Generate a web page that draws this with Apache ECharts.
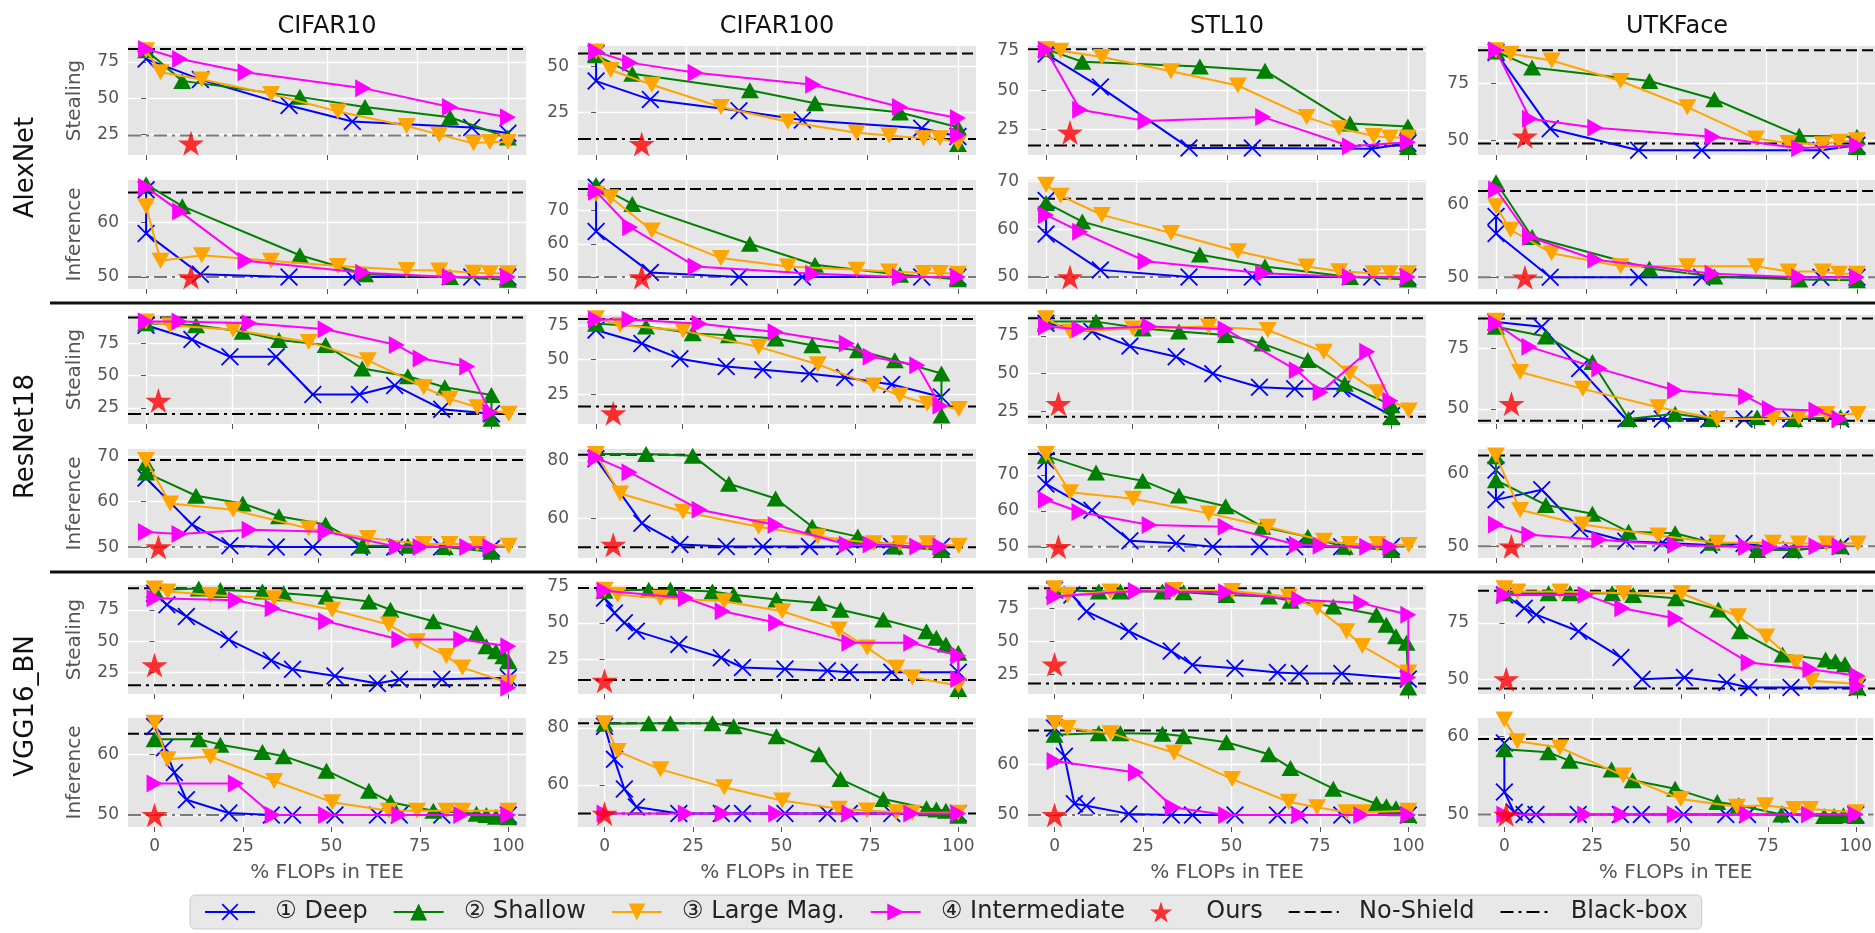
<!DOCTYPE html>
<html><head><meta charset="utf-8">
<script src="https://cdn.jsdelivr.net/npm/echarts@6/dist/echarts.min.js"></script>
<style>html,body{margin:0;padding:0;background:#fff}#c{width:1875px;height:933px}</style>
</head><body><div id="c"></div>
<script>
// ---------------- DATA ----------------
const datasets = ['CIFAR10', 'CIFAR100', 'STL10', 'UTKFace'];
const models = ['AlexNet', 'ResNet18', 'VGG16_BN'];
const tasks = ['Stealing', 'Inference'];
const methods = ['① Deep', '② Shallow', '③ Large Mag.', '④ Intermediate'];
const xTicks = [0, 25, 50, 75, 100];
const xRangeByModel = [[-5, 105], [-5.2, 110], [-7.5, 105]];

// AlexNet – Stealing
const A_C10_S_deep = [[0,77],[15,63],[39.5,45],[57,34],[90,30],[100,26]];
const A_C10_S_shal = [[0,83],[10,62],[42.5,51],[60.5,44],[84,37],[100,23]];
const A_C10_S_larg = [[0,83],[4,68],[15.4,63],[34.5,53],[53,41],[72,31],[81,25],[90.5,19],[95,20],[100,20]];
const A_C10_S_inte = [[0,84],[9.4,77],[27.5,68],[60,57],[84,44],[100,37]];
const A_C100_S_deep = [[0,57],[0,42],[15,32],[39.5,26],[57,21],[90,16.5],[100,12]];
const A_C100_S_shal = [[0,56],[10,46],[42.5,37],[60.5,30],[84,25],[100,17],[100,8]];
const A_C100_S_larg = [[0,58],[4,48],[15.4,40],[34.5,28],[53,20],[72,14],[81,12.5],[90.5,11],[95,11],[100,8.5]];
const A_C100_S_inte = [[0,58],[9.4,52],[27.5,46.5],[60,40],[84,28],[100,22],[100,12.5]];
const A_STL_S_deep = [[0,73],[15,52],[39.5,13.5],[57,13.5],[90,13],[100,16.5]];
const A_STL_S_shal = [[0,76],[10,68],[42.5,65],[60.5,62.4],[84,29],[100,27],[100,14]];
const A_STL_S_larg = [[0,76],[4,75],[15.4,71],[34.5,62],[53,53],[72,33],[81,26],[90.5,21],[95,20],[100,20]];
const A_STL_S_inte = [[0,75.4],[9.4,37.6],[27.5,30.5],[60,33],[84,14.5],[100,17]];
const A_UTK_S_deep = [[0,88.5],[15,55],[39.5,45.6],[57,45.6],[90,45.6],[100,47.8]];
const A_UTK_S_shal = [[0,89],[10,82],[42.5,76],[60.5,68],[84,52],[100,51.5],[100,47]];
const A_UTK_S_larg = [[0,89.5],[4,88],[15.4,85],[34.5,76],[53,64.5],[72,50.7],[81,48.8],[90.5,48.2],[95,49.3],[100,50]];
const A_UTK_S_inte = [[0,89.5],[9.4,59.4],[27.5,55.5],[60,51.5],[84,46.5],[100,47.8]];
// AlexNet – Inference
const A_C10_I_deep = [[0,66],[0,58],[15,50.5],[39.5,50],[57,50],[90,50],[100,50]];
const A_C10_I_shal = [[0,67],[10,63],[42.5,54],[60.5,50.5],[84,50],[100,49.5]];
const A_C10_I_larg = [[0,63],[4,53],[15.4,54],[34.5,53],[53,52],[72,51.3],[81,51.2],[90.5,50.8],[95,50.7],[100,50.7]];
const A_C10_I_inte = [[0,66.5],[9.4,62],[27.5,53],[60,50.8],[84,50],[100,50]];
const A_C100_I_deep = [[0,77],[0,63.7],[15,51.4],[39.5,50],[57,50],[90,50],[100,50]];
const A_C100_I_shal = [[0,77.7],[10,72],[42.5,60],[60.5,53.7],[84,50.7],[100,49.3]];
const A_C100_I_larg = [[0,75],[4,74],[15.4,64],[34.5,55.7],[53,53.2],[72,52.2],[81,51.7],[90.5,51.2],[95,51.2],[100,51]];
const A_C100_I_inte = [[0,75.7],[9.4,65],[27.5,53.2],[60,51],[84,50],[100,50]];
const A_STL_I_deep = [[0,66],[0,59],[15,51.5],[39.5,50],[57,50],[90,50],[100,50]];
const A_STL_I_shal = [[0,65.5],[10,61.6],[42.5,54.7],[60.5,52.2],[84,50],[100,49.5]];
const A_STL_I_larg = [[0,69.3],[4,67],[15.4,63],[34.5,59.2],[53,55.4],[72,52.2],[81,51.2],[90.5,50.8],[95,50.8],[100,50.8]];
const A_STL_I_inte = [[0,63],[9.4,59.5],[27.5,53.3],[60,50.8],[84,50],[100,50]];
const A_UTK_I_deep = [[0,58.3],[0,56],[15,50],[39.5,50],[57,50],[90,50],[100,50]];
const A_UTK_I_shal = [[0,63],[10,55.5],[42.5,51.2],[60.5,50.1],[84,49.7],[100,49.6]];
const A_UTK_I_larg = [[0,59.7],[4,56.5],[15.4,53.3],[34.5,51.5],[53,51.5],[72,51.5],[81,50.8],[90.5,50.8],[95,50.5],[100,50.5]];
const A_UTK_I_inte = [[0,62],[9.4,55.5],[27.5,52.4],[60,50.5],[84,50],[100,50]];

// ResNet18 – Stealing
const R_C10_S_deep = [[0,89],[13.3,78],[24.3,64.6],[37.7,64.6],[48.3,35.4],[61.8,35.4],[72,42.4],[85.6,24],[100,20.5]];
const R_C10_S_shal = [[0,90.6],[14.5,89],[28,84],[38.5,77.6],[52,73.7],[62.6,55.5],[75.8,49.5],[86.5,41],[100,35],[100,16.5]];
const R_C10_S_larg = [[0,92],[7,89],[25.2,85.5],[47.1,76],[64.2,62],[80.4,41],[87.9,32],[95.9,25.5],[105,20.5]];
const R_C10_S_inte = [[0,92],[9.7,92],[30,90.6],[52,86],[72.6,73.7],[79.5,63.3],[93,57],[99.7,21.6]];
const R_C100_S_deep = [[0,71.4],[13.3,61.7],[24.3,50.7],[37.7,45],[48.3,42.7],[61.8,39.8],[72,37],[85.6,32],[100,23]];
const R_C100_S_shal = [[0,76],[14.5,74],[28,69],[38.5,67.7],[52,65.3],[62.6,60.4],[75.8,56.8],[86.5,49.5],[100,40],[100,9.5]];
const R_C100_S_larg = [[0,80],[7,75],[25.2,71],[47.1,59.2],[64.2,46.6],[80.4,31.3],[87.9,24],[95.9,18],[105,14.3]];
const R_C100_S_inte = [[0,79],[9.7,79],[30,76],[52,70],[72.6,61.7],[79.5,52],[93,46],[99.7,16.7]];
const R_STL_S_deep = [[0,83.5],[13.3,78],[24.3,68.3],[37.7,61.2],[48.3,50],[61.8,41],[72,40],[85.6,40],[100,22]];
const R_STL_S_shal = [[0,84.6],[14.5,84.6],[28,80],[38.5,78],[52,75.7],[62.6,70],[75.8,59],[86.5,43.3],[100,29],[100,21]];
const R_STL_S_larg = [[0,86.8],[7,78],[25.2,80],[47.1,81.3],[64.2,79],[80.4,64.5],[87.9,50],[95.9,37.7],[105,25.4]];
const R_STL_S_inte = [[0,81.3],[9.7,79.5],[30,81.3],[52,79.5],[72.6,52.2],[79.5,37.7],[93,64.5],[99.7,32]];
const R_UTK_S_deep = [[0,86],[13.3,84],[24.3,66.7],[37.7,45.8],[48.3,45.8],[61.8,45.8],[72,45.8],[85.6,45.8],[100,45.8]];
const R_UTK_S_shal = [[0,84],[14.5,80],[28,69.4],[38.5,45.8],[52,48],[62.6,45.8],[75.8,46.5],[86.5,45.8],[100,46.5]];
const R_UTK_S_larg = [[0,86.5],[7,65.3],[25.2,58.3],[47.1,50.7],[64.2,45.8],[80.4,45.8],[87.9,46.5],[95.9,47.9],[105,47.9]];
const R_UTK_S_inte = [[0,85.4],[9.7,75.7],[30,66.7],[52,57.6],[72.6,55.1],[79.5,50],[93,49.3],[99.7,45.8]];
// ResNet18 – Inference
const R_C10_I_deep = [[0,65.2],[13.3,55],[24.3,50.3],[37.7,50],[48.3,50],[61.8,50],[72,50],[85.6,50],[100,49.7]];
const R_C10_I_shal = [[0,68.5],[0,66.4],[14.5,61.3],[28,59.6],[38.5,56.8],[52,55],[62.6,50.3],[75.8,50.3],[86.5,50],[100,49]];
const R_C10_I_larg = [[0,69.2],[7,59.6],[25.2,58.2],[47.1,54.1],[64.2,52],[80.4,50.7],[87.9,50.7],[95.9,50.7],[105,50.3]];
const R_C10_I_inte = [[0,53.3],[9.7,52.9],[30,53.8],[52,53.4],[72.6,50.1],[79.5,50],[93,50],[99.7,50]];
const R_C100_I_deep = [[0,80.6],[13.3,58.3],[24.3,51],[37.7,50.3],[48.3,50.3],[61.8,50.3],[72,50.3],[85.6,50.3],[100,50.3]];
const R_C100_I_shal = [[0,82.3],[14.5,82.3],[28,81.7],[38.5,72],[52,66.9],[62.6,57.1],[75.8,53.7],[86.5,50.3],[100,49.1]];
const R_C100_I_larg = [[0,82.3],[7,68.6],[25.2,62.3],[47.1,57.1],[64.2,53.7],[80.4,51.4],[87.9,51.4],[95.9,51.4],[105,50.5]];
const R_C100_I_inte = [[0,81],[9.7,76],[30,63],[52,57.7],[72.6,51],[79.5,51],[93,50.3],[99.7,50.3]];
const R_STL_I_deep = [[0,74],[0,67.5],[13.3,60.2],[24.3,51.7],[37.7,51],[48.3,50],[61.8,50],[72,50],[85.6,50],[100,50]];
const R_STL_I_shal = [[0,75.3],[14.5,70.7],[28,68.4],[38.5,64.3],[52,61.3],[62.6,55.6],[75.8,52.8],[86.5,50],[100,49.1]];
const R_STL_I_larg = [[0,75.8],[7,65.2],[25.2,63.4],[47.1,59.3],[64.2,55.6],[80.4,51.7],[87.9,50.8],[95.9,50.8],[105,50.5]];
const R_STL_I_inte = [[0,63.1],[9.7,59.7],[30,56.1],[52,55.6],[72.6,50.6],[79.5,50.3],[93,50],[99.7,50]];
const R_UTK_I_deep = [[0,60.5],[0,56.4],[13.3,57.8],[24.3,52.4],[37.7,50.7],[48.3,50.5],[61.8,50.2],[72,50.4],[85.6,49.5],[100,50]];
const R_UTK_I_shal = [[0,62.4],[0,59.1],[14.5,55.7],[28,54.5],[38.5,52],[52,51.8],[62.6,50.5],[75.8,49.5],[86.5,49.5],[100,50]];
const R_UTK_I_larg = [[0,62.5],[7,55],[25.2,53],[47.1,51.5],[64.2,50.5],[80.4,50.5],[87.9,50.4],[95.9,50.4],[105,50.4]];
const R_UTK_I_inte = [[0,53],[9.7,51.6],[30,50.9],[52,50.2],[72.6,49.9],[79.5,49.8],[93,50],[99.7,50]];

// VGG16_BN – Stealing
const V_C10_S_deep = [[0,88.2],[3.5,79],[9,69.7],[21,51.3],[33,34.7],[39,27.6],[51,22.4],[63,16.3],[69.2,19.7],[81.2,19.7],[100,21]];
const V_C10_S_shal = [[0,90.8],[12.5,92],[18.6,90.8],[30.5,89.5],[36.5,88.2],[48.6,85.5],[60.6,81.6],[66.7,75],[78.8,65.8],[91,56.6],[93.8,46],[96.5,42],[98.6,38],[100,34]];
const V_C10_S_larg = [[0,92],[3.7,89.5],[15.8,86.8],[33.8,84.2],[50.2,75],[66.2,63.2],[74.2,50],[82.5,38.2],[87,29],[100,17]];
const V_C10_S_inte = [[0,84.2],[23,82.5],[33.4,76.3],[48.5,65.8],[69.2,51.3],[86.7,51.3],[100,46],[100,13]];
const V_C100_S_deep = [[0,67],[2.8,56.8],[5.6,50],[9,44.3],[21,35.2],[33,26],[39,19.3],[51,18.2],[63,17],[69.2,16],[81.2,16],[100,16]];
const V_C100_S_shal = [[0,72],[12.5,72.7],[18.6,72.7],[30.5,71.6],[36.5,69.3],[48.6,66],[60.6,63.6],[66.7,59],[78.8,52.3],[91,44.3],[93.8,39.8],[96.5,35.2],[100,29.5],[100,4.5]];
const V_C100_S_larg = [[0,72.7],[3.7,69.3],[15.8,67],[33.8,64.8],[50.2,58],[66.2,45.5],[74.2,33],[82.5,19.3],[87,12.5],[100,7]];
const V_C100_S_inte = [[0,72],[23,67],[33.4,58],[48.5,50],[69.2,36.4],[86.7,36.4],[100,27.3],[100,11.4]];
const V_STL_S_deep = [[0,88.8],[4.9,85],[9,72.5],[21,57.5],[33,42.5],[39,32],[51,29.5],[63,26.3],[69.2,25.5],[81.2,25.5],[100,21.3]];
const V_STL_S_shal = [[0,88.8],[12.5,87.5],[18.6,87.5],[30.5,87.5],[36.5,87],[48.6,85],[60.6,83.8],[66.7,80.5],[78.8,76.3],[91,70],[93.8,62.5],[96.5,53.8],[99.5,48.8],[100,15]];
const V_STL_S_larg = [[0,90],[3.7,85],[15.8,87.5],[33.8,88.8],[50.2,88],[66.2,83.8],[74.2,75],[82.5,57.5],[87,46.3],[100,26.3]];
const V_STL_S_inte = [[0,83.8],[23,88],[33.4,87.5],[48.5,87],[69.2,81.3],[86.7,78.8],[100,70],[100,22.5]];
const V_UTK_S_deep = [[0,87.5],[5.6,81.6],[9,78.7],[21,71.3],[33,59.6],[39,50],[51,50.7],[63,48.5],[69.2,46.3],[81.2,46.3],[100,46.3]];
const V_UTK_S_shal = [[0,88.2],[12.5,88.2],[18.6,88.2],[30.5,88.2],[36.5,87.5],[48.6,86],[60.6,81],[66.7,71.3],[78.8,61],[91,58.8],[93.8,58],[96.5,56.6],[100,46.3]];
const V_UTK_S_larg = [[0,90.4],[3.7,89],[15.8,89],[33.8,88.2],[50.2,88.2],[66.2,78],[74.2,69],[82.5,57.4],[87,49.3],[100,47.8]];
const V_UTK_S_inte = [[0,87.5],[23,87.5],[33.4,81.6],[48.5,77],[69.2,57.4],[86.7,54.4],[100,51.5],[100,47]];
// VGG16_BN – Inference
const V_C10_I_deep = [[0,64.6],[2.8,61.1],[5.6,57],[9,52.5],[21,50.3],[33,50],[39,50],[51,50],[63,50],[69.2,50],[81.2,50],[100,50]];
const V_C10_I_shal = [[0,62.5],[12.5,62.5],[18.6,61.6],[30.5,60.4],[36.5,59.7],[48.6,57.3],[60.6,54],[66.7,52.1],[78.8,50.7],[91,50.2],[93.8,50],[96.5,49.7],[100,49.6]];
const V_C10_I_larg = [[0,65.2],[3.7,59.2],[15.8,59.6],[33.8,55.6],[50.2,52.1],[66.2,50.7],[74.2,50.7],[82.5,50.7],[87,50.7],[100,50.7]];
const V_C10_I_inte = [[0,55.2],[23,55.2],[33.4,50],[48.5,50],[69.2,50],[86.7,50],[100,50]];
const V_C100_I_deep = [[0,80.6],[2.8,69],[5.6,58.6],[9,52.3],[21,50],[33,50],[39,50],[51,50],[63,50],[69.2,50],[81.2,50],[100,50]];
const V_C100_I_shal = [[0,81.5],[12.5,81.7],[18.6,81.7],[30.5,81.7],[36.5,80.6],[48.6,77.1],[60.6,70.8],[66.7,62.1],[78.8,55.1],[91,51.9],[93.8,51.4],[96.5,51],[100,49.2]];
const V_C100_I_larg = [[0,81.7],[3.7,71.9],[15.8,65.5],[33.8,59.2],[50.2,54.6],[66.2,51.7],[74.2,51.1],[82.5,50.5],[87,50.3],[100,50.3]];
const V_C100_I_inte = [[0,50],[23,50],[33.4,50],[48.5,50],[69.2,50],[86.7,50],[100,50]];
const V_STL_I_deep = [[0,67.2],[2.8,61.6],[5.6,52.2],[9,51.8],[21,50.2],[33,50],[39,50],[51,50],[63,50],[69.2,50],[81.2,50],[100,50]];
const V_STL_I_shal = [[0,65.9],[12.5,66.2],[18.6,66.2],[30.5,66.1],[36.5,65.6],[48.6,64.4],[60.6,62],[66.7,59.3],[78.8,55.2],[91,52.2],[93.8,51.7],[96.5,51.3],[100,50]];
const V_STL_I_larg = [[0,68.2],[3.7,67.2],[15.8,66.2],[33.8,62.3],[50.2,57.1],[66.2,52.6],[74.2,51.5],[82.5,50.5],[87,50.5],[100,50.8]];
const V_STL_I_inte = [[0,60.7],[23,58.4],[33.4,51.5],[48.5,50],[69.2,50],[86.7,50],[100,50]];
const V_UTK_I_deep = [[0,59.2],[0,52.9],[2.8,50.3],[5.6,50],[9,50],[21,50],[33,50],[39,50],[51,50],[63,50],[69.2,50],[81.2,50],[100,50]];
const V_UTK_I_shal = [[0,58.4],[12.5,58],[18.6,56.9],[30.5,55.8],[36.5,54.4],[48.6,53.3],[60.6,51.6],[66.7,51.2],[78.8,50],[91,49.8],[93.8,49.8],[96.5,49.9],[100,49.8]];
const V_UTK_I_larg = [[0,62.2],[3.7,59.4],[15.8,58.6],[33.8,55],[50.2,52],[66.2,51],[74.2,51.2],[82.5,50.7],[87,50.7],[100,50.3]];
const V_UTK_I_inte = [[0,50],[23,50],[33.4,50],[48.5,50],[69.2,50],[86.7,50],[100,50]];

// Reference lines and "Ours" (rows: A-S, A-I, R-S, R-I, V-S, V-I; cols: datasets)
const noShield = [[84,57,76,89.5],[65.5,76.5,66.4,61.8],[95,79.4,86.8,87.5],[69.2,82,75.8,62.5],[92.1,73.9,90,89.3],[63.4,81.7,66.7,59.7]];
const blackBox = [[24.5,10.7,15,48.5],[50,50,50,50],[20.3,16,21.4,45.1],[50,50,50,50],[15,10.7,18,45.9],[50,50,50,50]];
const ours = [
  [[12.4,19],[12.6,8],[6.6,23.3],[8,51.7]],
  [[12.4,50],[12.6,50],[6.6,50],[8,50]],
  [[3.6,30.7],[5,11.2],[3.6,29.9],[4.5,52.1]],
  [[3.6,50],[5,50.9],[3.6,50],[4.5,50]],
  [[0,31],[0,10.2],[0,32.5],[0.5,50]],
  [[0,50],[0,50],[0,50],[0.5,50]]
];
// y-axis limits and tick labels per panel
const yLim = [
  [[11,86],[2,61],[9,78],[43.5,91.4]],
  [[47.8,67.8],[46.4,79.2],[47.5,70.3],[48.4,63.3]],
  [[12.5,97],[3.4,82.3],[16.5,89],[43.75,88.9]],
  [[47.6,71.6],[46.3,84],[46.9,77.2],[48.4,63.4]],
  [[8,94.7],[1.1,76],[10,92.5],[43.4,91.9]],
  [[48,66],[45.3,83.5],[47.6,69.2],[48.4,62.4]]
];
const yTicks = [
  [[25,50,75],[25,50],[25,50,75],[50,75]],
  [[50,60],[50,60,70],[50,60,70],[50,60]],
  [[25,50,75],[25,50,75],[25,50,75],[50,75]],
  [[50,60,70],[60,80],[50,60,70],[50,60]],
  [[25,50,75],[25,50,75],[25,50,75],[50,75]],
  [[50,60],[60,80],[50,60],[50,60]]
];

const panelData = [
  [[A_C10_S_deep,A_C10_S_shal,A_C10_S_larg,A_C10_S_inte],[A_C100_S_deep,A_C100_S_shal,A_C100_S_larg,A_C100_S_inte],[A_STL_S_deep,A_STL_S_shal,A_STL_S_larg,A_STL_S_inte],[A_UTK_S_deep,A_UTK_S_shal,A_UTK_S_larg,A_UTK_S_inte]],
  [[A_C10_I_deep,A_C10_I_shal,A_C10_I_larg,A_C10_I_inte],[A_C100_I_deep,A_C100_I_shal,A_C100_I_larg,A_C100_I_inte],[A_STL_I_deep,A_STL_I_shal,A_STL_I_larg,A_STL_I_inte],[A_UTK_I_deep,A_UTK_I_shal,A_UTK_I_larg,A_UTK_I_inte]],
  [[R_C10_S_deep,R_C10_S_shal,R_C10_S_larg,R_C10_S_inte],[R_C100_S_deep,R_C100_S_shal,R_C100_S_larg,R_C100_S_inte],[R_STL_S_deep,R_STL_S_shal,R_STL_S_larg,R_STL_S_inte],[R_UTK_S_deep,R_UTK_S_shal,R_UTK_S_larg,R_UTK_S_inte]],
  [[R_C10_I_deep,R_C10_I_shal,R_C10_I_larg,R_C10_I_inte],[R_C100_I_deep,R_C100_I_shal,R_C100_I_larg,R_C100_I_inte],[R_STL_I_deep,R_STL_I_shal,R_STL_I_larg,R_STL_I_inte],[R_UTK_I_deep,R_UTK_I_shal,R_UTK_I_larg,R_UTK_I_inte]],
  [[V_C10_S_deep,V_C10_S_shal,V_C10_S_larg,V_C10_S_inte],[V_C100_S_deep,V_C100_S_shal,V_C100_S_larg,V_C100_S_inte],[V_STL_S_deep,V_STL_S_shal,V_STL_S_larg,V_STL_S_inte],[V_UTK_S_deep,V_UTK_S_shal,V_UTK_S_larg,V_UTK_S_inte]],
  [[V_C10_I_deep,V_C10_I_shal,V_C10_I_larg,V_C10_I_inte],[V_C100_I_deep,V_C100_I_shal,V_C100_I_larg,V_C100_I_inte],[V_STL_I_deep,V_STL_I_shal,V_STL_I_larg,V_STL_I_inte],[V_UTK_I_deep,V_UTK_I_shal,V_UTK_I_larg,V_UTK_I_inte]]
];

// ---------------- LAYOUT / STYLE ----------------
const FONT = "'DejaVu Sans', 'Liberation Sans', sans-serif";
const colLeft = [128, 578, 1028, 1478];
const rowTop = [46, 180, 315, 449, 585, 718];
const PW = 398, PH = 109;
const colors = ['#0000ff', '#008000', '#ffa500', '#ff00ff'];
const X_PATH = 'path://M0,0.7 L0.7,0 L5,4.3 L9.3,0 L10,0.7 L5.7,5 L10,9.3 L9.3,10 L5,5.7 L0.7,10 L0,9.3 L4.3,5 Z';
const symbols = [X_PATH, 'triangle', 'path://M0,0 L10,0 L5,8.66 Z', 'path://M0,0 L8.66,5 L0,10 Z'];
const symSizes = [[18,18], [18,16], [18,16], [16,18]];
const STAR = 'path://M50,0 L61,35 L98,35 L68,57 L79,91 L50,70 L21,91 L32,57 L2,35 L39,35 Z';

const grids = [], xAxes = [], yAxes = [], series = [];
for (let r = 0; r < 6; r++) {
  for (let c = 0; c < 4; c++) {
    const idx = r * 4 + c;
    const xr = xRangeByModel[Math.floor(r / 2)];
    grids.push({left: colLeft[c], top: rowTop[r], width: PW, height: PH,
      show: true, backgroundColor: '#E5E5E5', borderWidth: 0});
    xAxes.push({type: 'value', gridIndex: idx, min: xr[0], max: xr[1],
      axisLine: {show: false},
      axisTick: {show: true, length: 5, lineStyle: {color: '#555', width: 1}, customValues: xTicks},
      axisLabel: {show: r === 5, customValues: xTicks, fontSize: 17, color: '#555', margin: 11, fontFamily: FONT},
      splitLine: {show: true, lineStyle: {color: '#fff', width: 1.3}},
      name: r === 5 ? '% FLOPs in TEE' : '', nameLocation: 'middle', nameGap: 36,
      nameTextStyle: {fontSize: 20, color: '#555', fontFamily: FONT}});
    const yl = yLim[r][c];
    yAxes.push({type: 'value', gridIndex: idx, min: yl[0], max: yl[1],
      axisLine: {show: false},
      axisTick: {show: true, length: 5, lineStyle: {color: '#555', width: 1}, customValues: yTicks[r][c]},
      axisLabel: {show: true, customValues: yTicks[r][c], fontSize: 17, color: '#555', margin: 9, fontFamily: FONT},
      splitLine: {show: true, lineStyle: {color: '#fff', width: 1.3}}});
    const ns = noShield[r][c], bb = blackBox[r][c];
    const bbOnGrid = yTicks[r][c].some(t => Math.abs(t - bb) < 1);
    series.push({name: 'No-Shield', type: 'line', xAxisIndex: idx, yAxisIndex: idx,
      data: [[xr[0], ns], [xr[1], ns]], symbol: 'none', silent: true, z: 2,
      lineStyle: {color: '#000', width: 2, type: [11, 5]}, itemStyle: {color: '#000'}});
    series.push({name: 'Black-box', type: 'line', xAxisIndex: idx, yAxisIndex: idx,
      data: [[xr[0], bb], [xr[1], bb]], symbol: 'none', silent: true, z: 2,
      lineStyle: {color: bbOnGrid ? '#7a7a7a' : '#000', width: 2, type: [13, 5, 3, 5]}, itemStyle: {color: '#000'}});
    for (let k = 0; k < 4; k++) {
      series.push({name: methods[k], type: 'line', xAxisIndex: idx, yAxisIndex: idx,
        data: panelData[r][c][k], symbol: symbols[k], symbolSize: symSizes[k], showSymbol: true,
        clip: false, silent: true, z: 3 + k,
        lineStyle: {color: colors[k], width: 2}, itemStyle: {color: colors[k]}});
    }
    series.push({name: 'Ours', type: 'scatter', xAxisIndex: idx, yAxisIndex: idx,
      data: [ours[r][c]], symbol: STAR, symbolSize: [26, 25], silent: true, z: 10,
      itemStyle: {color: '#ff0000'}});
  }
}

const graphics = [];
datasets.forEach((d, c) => graphics.push({type: 'text', x: colLeft[c] + PW / 2, y: 27,
  style: {text: d, fontSize: 24, fontFamily: FONT, fill: '#111', align: 'center', verticalAlign: 'middle'}}));
models.forEach((m, i) => {
  const yc = (rowTop[2 * i] + rowTop[2 * i + 1] + PH) / 2;
  graphics.push({type: 'text', x: 26, y: yc, rotation: Math.PI / 2,
    style: {text: m, fontSize: 26, fontFamily: FONT, fill: '#111', align: 'center', verticalAlign: 'middle'}});
  tasks.forEach((t, j) => {
    graphics.push({type: 'text', x: 75, y: rowTop[2 * i + j] + PH / 2, rotation: Math.PI / 2,
      style: {text: t, fontSize: 20, fontFamily: FONT, fill: '#555', align: 'center', verticalAlign: 'middle'}});
  });
});
[303, 572].forEach(y => graphics.push({type: 'line', shape: {x1: 50, y1: y, x2: 1875, y2: y},
  style: {stroke: '#111', lineWidth: 3}}));

const hiddenDot = {opacity: 0};
const chart = echarts.init(document.getElementById('c'), null, {renderer: 'canvas'});
chart.setOption({
  animation: false,
  backgroundColor: '#fff',
  grid: grids, xAxis: xAxes, yAxis: yAxes, series: series,
  legend: {
    data: [...methods, 'Ours',
      {name: 'No-Shield', itemStyle: hiddenDot},
      {name: 'Black-box', itemStyle: hiddenDot, lineStyle: {color: '#000'}}],
    left: 190, top: 895, itemWidth: 50, itemHeight: 21, itemGap: 25,
    padding: [5, 14, 5, 14], backgroundColor: '#e8e8e8', borderColor: '#c8c8c8', borderWidth: 1, borderRadius: 5,
    selectedMode: false,
    formatter: n => '  ' + n,
    textStyle: {fontSize: 24, color: '#222', fontFamily: FONT}
  },
  graphic: graphics
});
</script></body></html>
